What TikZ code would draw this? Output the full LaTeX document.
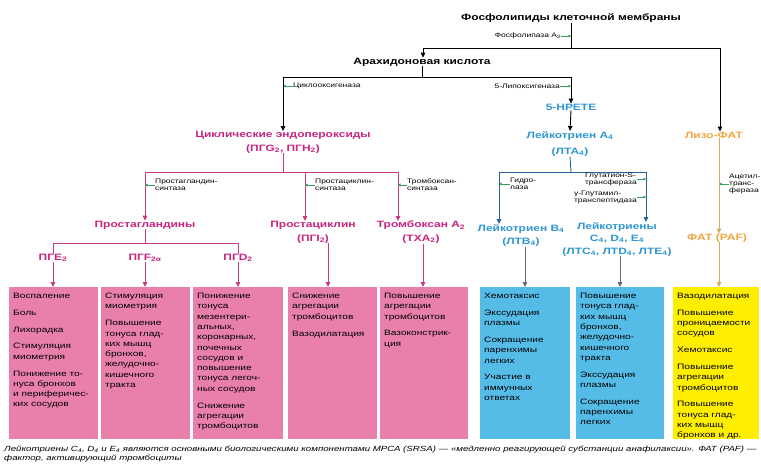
\documentclass[tikz,border=0pt]{standalone}
\usepackage{fontspec}
\setmainfont{Liberation Sans}[FakeStretch=1.3]
\usetikzlibrary{arrows.meta}
\definecolor{pinkbox}{RGB}{233,128,172}
\definecolor{magtext}{RGB}{200,35,125}
\definecolor{magline}{RGB}{200,60,130}
\definecolor{bluebox}{RGB}{85,188,232}
\definecolor{bluetext}{RGB}{45,150,210}
\definecolor{blueline}{RGB}{40,100,160}
\definecolor{yelbox}{RGB}{255,238,0}
\definecolor{orgtext}{RGB}{242,165,60}
\definecolor{orgline}{RGB}{215,170,100}
\definecolor{grayline}{RGB}{105,105,115}
\definecolor{enzgreen}{RGB}{50,160,90}
\newcommand\pgap{\\[6.5pt]}
\begin{document}
\begin{tikzpicture}[x=1pt,y=-1pt,
  hd/.style={font=\bfseries\fontsize{9.2}{13.5}\selectfont, inner sep=0pt, align=center},
  enz/.style={font=\fontsize{6.5}{7}\selectfont, inner sep=0pt, align=left},
  btxt/.style={font=\fontsize{7.8}{10.3}\selectfont, inner sep=0pt, align=left, anchor=north west},
  bx/.style={draw=none, inner sep=0pt, anchor=north west, minimum height=152pt},
  ln/.style={line width=0.9pt},
  arr/.style={line width=0.9pt, -{Triangle[length=5pt,width=4.5pt]}},
  earr/.style={enzgreen, line width=0.8pt, -{Triangle[length=2.5pt,width=2.8pt]}}
]
\useasboundingbox (0,0) rectangle (761,467);

% ---------- top ----------
\node[hd] (phos) at (571,18) {Фосфолипиды клеточной мембраны};
\coordinate (jp) at (571,48);
\coordinate (jl) at (423,48);
\coordinate (jr) at (720,48);
\node[hd] (arach) at (422,62) {Арахидоновая кислота};
\draw[ln] (phos.south) -- (jp);
\draw[ln] (jl) -- (jr);
\draw[arr] (jl) -- (arach.north -| jl);
\node[enz, anchor=east] (fla) at (561,36) {Фосфолипаза A\textsubscript{2}};
\draw[earr] (fla.east) -- (fla.east -| jp);

\coordinate (jc) at (283,77);
\coordinate (jh) at (571,77);
\draw[ln] (arach.south) -- (arach.south |- jc);
\draw[ln] (jc) -- (jh);
\node[enz, anchor=west] (cox) at (293,86) {Циклооксигеназа};
\draw[earr] (cox.west) -- (cox.west -| jc);
\node[enz, anchor=east] (lox) at (560,86) {5-Липоксигеназа};
\draw[earr] (lox.east) -- (lox.east -| jh);

\node[hd, magtext, anchor=north] (cyc) at (283,131) {Циклические эндопероксиды\\(ПГG\textsubscript{2}, ПГН\textsubscript{2})};
\node[hd, bluetext] (hpete) at (571,107) {5-HPETE};
\node[hd, bluetext, anchor=north] (lta) at (570,131) {Лейкотриен A\textsubscript{4}\\[3pt](ЛТА\textsubscript{4})};
\node[hd, orgtext] (lyso) at (714,135) {Лизо-ФАТ};
\draw[arr] (jc) -- (cyc.north);
\draw[arr] (jh) -- (hpete.north);
\draw[arr] (hpete.south) -- (lta.north);
\draw[arr] (jr) -- (lyso.north -| jr);

% ---------- magenta branch ----------
\coordinate (c0) at (283,172);
\coordinate (c1) at (145,172);
\coordinate (c2) at (305,172);
\coordinate (c3) at (398,172);
\node[hd, magtext] (pgs) at (145,225) {Простагландины};
\node[hd, magtext, anchor=north] (pcy) at (313,221) {Простациклин\\(ПГI\textsubscript{2})};
\node[hd, magtext, anchor=north] (txa) at (421,221) {Тромбоксан A\textsubscript{2}\\(ТХА\textsubscript{2})};
\draw[ln, magline] (cyc.south) -- (cyc.south |- c0);
\draw[ln, magline] (c1) -- (c3);
\draw[arr, magline] (c1) -- (pgs.north -| c1);
\draw[arr, magline] (c2) -- (c2 |- pcy.north);
\draw[arr, magline] (c3) -- (c3 |- txa.north);
\node[enz, anchor=west] (e1) at (155,185) {Простагландин-\\синтаза};
\node[enz, anchor=west] (e2) at (315,185) {Простациклин-\\синтаза};
\node[enz, anchor=west] (e3) at (407,185) {Тромбоксан-\\синтаза};
\draw[earr] (e1.west) -- (e1.west -| c1);
\draw[earr] (e2.west) -- (e2.west -| c2);
\draw[earr] (e3.west) -- (e3.west -| c3);

\coordinate (p0) at (145,243);
\coordinate (p1) at (53,243);
\coordinate (p3) at (238,243);
\node[hd, magtext] (pge) at (53,258) {ПГЕ\textsubscript{2}};
\node[hd, magtext] (pgf) at (145,258) {ПГF\textsubscript{2α}};
\node[hd, magtext] (pgd) at (238,258) {ПГD\textsubscript{2}};
\draw[ln, magline] (pgs.south) -- (p0);
\draw[ln, magline] (p1) -- (p3);
\draw[ln, magline] (p1) -- (pge.north -| p1);
\draw[ln, magline] (p3) -- (pgd.north -| p3);

% ---------- blue branch ----------
\coordinate (l0) at (571,172);
\coordinate (l1) at (499,172);
\coordinate (l2) at (646,172);
\node[hd, bluetext, anchor=north] (ltb) at (521,224) {Лейкотриен B\textsubscript{4}\\(ЛТВ\textsubscript{4})};
\node[hd, bluetext, anchor=north] (ltc) at (617,222) {Лейкотриены\\[-1pt]C\textsubscript{4}, D\textsubscript{4}, E\textsubscript{4}\\[-1pt](ЛТС\textsubscript{4}, ЛТD\textsubscript{4}, ЛТЕ\textsubscript{4})};
\draw[ln, blueline] (lta.south) -- (l0);
\draw[ln, blueline] (l1) -- (l2);
\draw[arr, blueline] (l1) -- (l1 |- ltb.north);
\draw[arr, blueline] (l2) -- (l2 |- ltc.north);
\node[enz, anchor=west] (hyd) at (510,184) {Гидро-\\лаза};
\node[enz, anchor=east] (gst) at (637,179) {Глутатион-S-\\трансфераза};
\node[enz, anchor=east] (ggt) at (637,197) {γ-Глутамил-\\транспептидаза};
\draw[earr] (hyd.west) -- (hyd.west -| l1);
\draw[earr] (gst.east) -- (gst.east -| l2);
\draw[earr] (ggt.east) -- (ggt.east -| l2);

% ---------- orange branch ----------
\coordinate (a8) at (719,287);
\node[hd, orgtext] (paf) at (717,238) {ФАТ (PAF)};
\draw[arr, orgline] (lyso.south -| a8) -- (paf.north -| a8);
\node[enz, anchor=west] (act) at (729,184) {Ацетил-\\транс-\\фераза};
\draw[earr] (act.west) -- (act.west -| a8);

% ---------- boxes ----------
\node[bx, fill=pinkbox, minimum width=89pt] (b1) at (9,287) {};
\node[bx, fill=pinkbox, minimum width=89pt] (b2) at (101,287) {};
\node[bx, fill=pinkbox, minimum width=90pt] (b3) at (193,287) {};
\node[bx, fill=pinkbox, minimum width=89pt] (b4) at (288,287) {};
\node[bx, fill=pinkbox, minimum width=88pt] (b5) at (380,287) {};
\node[bx, fill=bluebox, minimum width=90pt] (b6) at (480,287) {};
\node[bx, fill=bluebox, minimum width=88pt] (b7) at (576,287) {};
\node[bx, fill=yelbox, minimum width=86pt] (b8) at (673,287) {};

\node[btxt] (t1) at (13,293) {Воспаление\pgap Боль\pgap Лихорадка\pgap Стимуляция\\миометрия\pgap Понижение то-\\нуса бронхов\\и периферичес-\\ких сосудов};
\node[btxt] (t2) at (105,293) {Стимуляция\\миометрия\pgap Повышение\\тонуса глад-\\ких мышц\\бронхов,\\желудочно-\\кишечного\\тракта};
\node[btxt] (t3) at (197,293) {Понижение\\тонуса\\мезентери-\\альных,\\коронарных,\\почечных\\сосудов и\\повышение\\тонуса легоч-\\ных сосудов\pgap Снижение\\агрегации\\тромбоцитов};
\node[btxt] (t4) at (292,293) {Снижение\\агрегации\\тромбоцитов\pgap Вазодилатация};
\node[btxt] (t5) at (384,293) {Повышение\\агрегации\\тромбоцитов\pgap Вазоконстрик-\\ция};
\node[btxt] (t6) at (484,293) {Хемотаксис\pgap Экссудация\\плазмы\pgap Сокращение\\паренхимы\\легких\pgap Участие в\\иммунных\\ответах};
\node[btxt] (t7) at (580,293) {Повышение\\тонуса глад-\\ких мышц\\бронхов,\\желудочно-\\кишечного\\тракта\pgap Экссудация\\плазмы\pgap Сокращение\\паренхимы\\легких};
\node[btxt] (t8) at (677,293) {Вазодилатация\pgap Повышение\\проницаемости\\сосудов\pgap Хемотаксис\pgap Повышение\\агрегации\\тромбоцитов\pgap Повышение\\тонуса глад-\\ких мышц\\бронхов и др.};

% ---------- arrows into boxes ----------
\coordinate (a4) at (328,287);
\coordinate (a5) at (423,287);
\coordinate (a6) at (525,287);
\coordinate (a7) at (620,287);
\draw[arr, magline] (pge.south) -- (pge.south |- b1.north);
\draw[arr, magline] (pgf.south) -- (pgf.south |- b2.north);
\draw[arr, magline] (pgd.south) -- (pgd.south |- b3.north);
\draw[arr, magline] (a4 |- pcy.south) -- (a4);
\draw[arr, magline] (a5 |- txa.south) -- (a5);
\draw[arr, grayline] (a6 |- ltb.south) -- (a6);
\draw[arr, grayline] (a7 |- ltc.south) -- (a7);
\draw[arr, orgline] (paf.south -| a8) -- (a8);

% ---------- footer ----------
\node[font=\itshape\fontsize{7.45}{9}\selectfont, anchor=north west, inner sep=0pt, align=left] (foot) at (4,445.5)
 {Лейкотриены C\textsubscript{4}, D\textsubscript{4} и E\textsubscript{4} являются основными биологическими компонентами МРСА (SRSA) — «медленно реагирующей субстанции анафилаксии». ФАТ (PAF) —\\фактор, активирующий тромбоциты};
\end{tikzpicture}
\end{document}
